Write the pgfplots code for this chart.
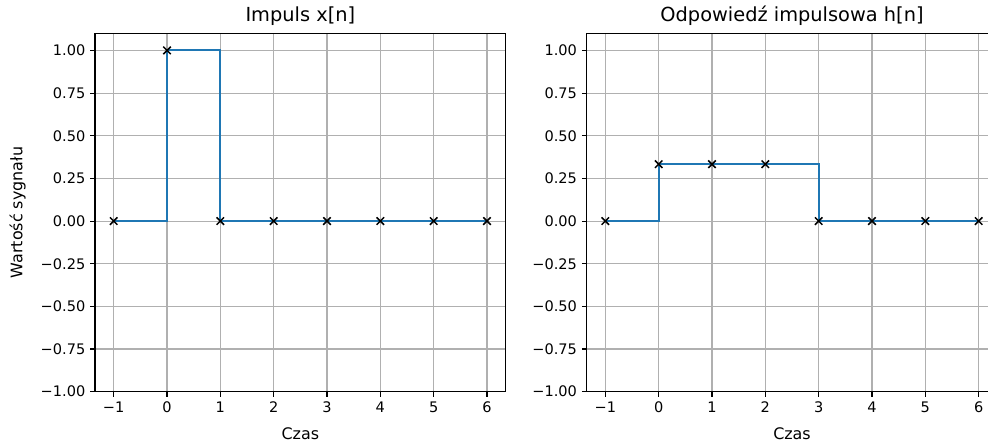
\documentclass[border=0pt]{standalone}
\usepackage{fontspec}
\setmainfont{DejaVu Sans}
\usepackage{pgfplots}
\pgfplotsset{compat=1.18}
\definecolor{c0}{HTML}{1F77B4}
\definecolor{gridc}{HTML}{B0B0B0}
\pgfplotsset{myax/.style={
  scale only axis, width=295.7bp, height=258bp,
  xmin=-1.35, xmax=6.35, ymin=-1, ymax=1.1,
  xtick={-1,0,1,2,3,4,5,6},
  xticklabels={−1,0,1,2,3,4,5,6},
  ytick={-1,-0.75,-0.5,-0.25,0,0.25,0.5,0.75,1},
  yticklabels={−1.00,−0.75,−0.50,−0.25,0.00,0.25,0.50,0.75,1.00},
  grid=major, grid style={color=gridc, line width=0.8bp},
  axis line style={line width=0.8bp},
  every tick/.style={black, line width=0.8bp},
  tick align=outside, tick pos=left, major tick length=3.5bp,
  anchor=south west,
  title style={font=\fontsize{14}{16}\selectfont, yshift=-4bp},
  label style={font=\fontsize{11.5}{13}\selectfont},
  xlabel style={yshift=-4.5bp},
  ylabel style={yshift=4bp},
  ticklabel style={font=\fontsize{10.5}{12}\selectfont},
  clip=false,
}}
\begin{document}
\begin{tikzpicture}
\useasboundingbox (0,0) rectangle (711.36bp,320.4bp);
\clip (0,0) rectangle (711.36bp,320.4bp);
\begin{axis}[myax, at={(68.4bp,38.38bp)}, title={Impuls x[n]}, xlabel={Czas}, ylabel={Wartość sygnału}]
\addplot[const plot mark left, c0, line width=1.5bp, no marks] coordinates {(-1,0) (0,1) (1,0) (2,0) (3,0) (4,0) (5,0) (6,0)};
\addplot[only marks, mark=x, mark size=3.8bp, black, mark options={line width=1.1bp}] coordinates {(-1,0) (0,1) (1,0) (2,0) (3,0) (4,0) (5,0) (6,0)};
\end{axis}
\begin{axis}[myax, at={(422.4bp,38.38bp)}, title={Odpowiedź impulsowa h[n]}, xlabel={Czas}]
\addplot[const plot mark left, c0, line width=1.5bp, no marks] coordinates {(-1,0) (0,0.3333) (1,0.3333) (2,0.3333) (3,0) (4,0) (5,0) (6,0)};
\addplot[only marks, mark=x, mark size=3.8bp, black, mark options={line width=1.1bp}] coordinates {(-1,0) (0,0.3333) (1,0.3333) (2,0.3333) (3,0) (4,0) (5,0) (6,0)};
\end{axis}
\end{tikzpicture}
\end{document}
